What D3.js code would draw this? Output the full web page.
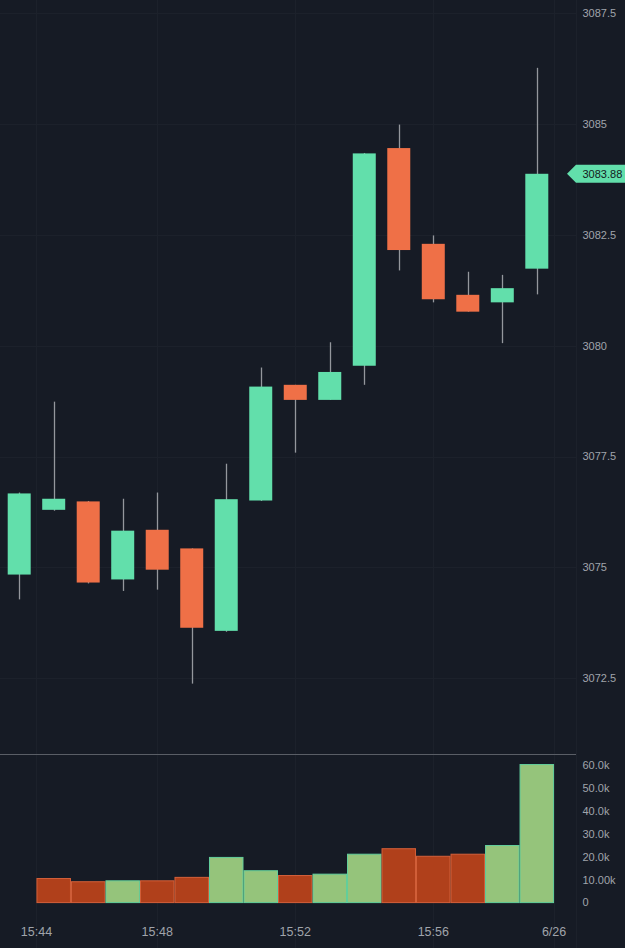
<!DOCTYPE html>
<html>
<head>
<meta charset="utf-8">
<script src="https://cdn.jsdelivr.net/npm/d3@7"></script>
<style>
  html, body { margin: 0; padding: 0; background: #161b25; }
  svg { display: block; }
  text { font-family: "Liberation Sans", Arial, Helvetica, sans-serif; }
</style>
</head>
<body>
<svg id="chart" width="625" height="948"></svg>
<script>
// ---- data ----
const times  = ["15:44","15:45","15:46","15:47","15:48","15:49","15:50","15:51","15:52","15:53","15:54","15:55","15:56","15:57","15:58","15:59"];
const open   = [3074.84,3076.30,3076.49,3074.73,3075.85,3075.43,3073.57,3076.51,3079.12,3078.78,3079.55,3084.46,3082.30,3081.15,3080.98,3081.74];
const high   = [3076.69,3078.74,3076.50,3076.55,3076.69,3075.43,3077.34,3079.51,3079.12,3080.08,3084.35,3084.99,3082.49,3081.67,3081.60,3086.27];
const low    = [3074.28,3076.28,3074.64,3074.47,3074.50,3072.38,3073.55,3076.50,3077.59,3078.78,3079.12,3081.70,3080.98,3080.77,3080.06,3081.16];
const close  = [3076.67,3076.55,3074.66,3075.83,3074.95,3073.64,3076.54,3079.08,3078.78,3079.41,3084.34,3082.16,3081.05,3080.77,3081.30,3083.88];
const volume = [null,10500,9100,9500,9500,11000,19700,13900,11800,12400,21100,23500,20200,21100,24900,60200];
const priceTicks = [3072.5,3075,3077.5,3080,3082.5,3085,3087.5];
const priceTickLabels = ["3072.5","3075","3077.5","3080","3082.5","3085","3087.5"];
const volTicks = [0,10000,20000,30000,40000,50000,60000];
const volTickLabels = ["0","10.00k","20.0k","30.0k","40.0k","50.0k","60.0k"];
const timeTickAt = [0.5,4,8,12,15.5];
const timeTickLabels = ["15:44","15:48","15:52","15:56","6/26"];
const lastPriceLabel = "3083.88";

// ---- layout ----
const W = 625, H = 948;
const plotRight = 576;
const paneSep = 754;
const upColor = "#62dfab", downColor = "#ef7047";
const volUp = "#95c47b", volDown = "#b0401b";
const volUpStroke = "#63cf9c", volDownStroke = "#d4603a";
const gridColor = "#1c212b";
const labelColor = "#a0a4ab";

const svg = d3.select("#chart");
svg.append("rect").attr("width", W).attr("height", H).attr("fill", "#161b25");

const idx = d3.range(times.length);
const x = d3.scaleLinear().domain([0, 15]).range([19.2, 536.8]);
const y = d3.scaleLinear().domain([3072.5, 3087.5]).range([678.3, 13.3]);
const yv = d3.scaleLinear().domain([0, 60000]).range([902.6, 765]);
const step = x(1) - x(0);
const bodyW = 23;

// grid
const g = svg.append("g");
g.selectAll("line.h").data(priceTicks).join("line")
  .attr("x1", 0).attr("x2", plotRight)
  .attr("y1", d => Math.round(y(d)) + 0.5).attr("y2", d => Math.round(y(d)) + 0.5)
  .attr("stroke", gridColor).attr("stroke-width", 1);
g.selectAll("line.v").data(timeTickAt).join("line")
  .attr("x1", d => Math.round(x(d)) + 0.5).attr("x2", d => Math.round(x(d)) + 0.5)
  .attr("y1", 0).attr("y2", H)
  .attr("stroke", gridColor).attr("stroke-width", 1);
// right axis separator
svg.append("line").attr("x1", plotRight + 0.5).attr("x2", plotRight + 0.5)
  .attr("y1", 0).attr("y2", H).attr("stroke", gridColor);

// candles
const cg = svg.append("g");
const isUp = i => close[i] >= open[i];
cg.selectAll("line.wick").data(idx).join("line")
  .attr("x1", i => Math.round(x(i)) + 0.5).attr("x2", i => Math.round(x(i)) + 0.5)
  .attr("y1", i => y(high[i])).attr("y2", i => y(low[i]))
  .attr("stroke", "#94979d").attr("stroke-width", 1.3);
cg.selectAll("rect.body").data(idx).join("rect")
  .attr("x", i => x(i) - bodyW / 2)
  .attr("width", bodyW)
  .attr("y", i => y(Math.max(open[i], close[i])))
  .attr("height", i => Math.max(1, Math.abs(y(open[i]) - y(close[i]))))
  .attr("fill", i => isUp(i) ? upColor : downColor);

// pane separator
svg.append("line").attr("x1", 0).attr("x2", plotRight)
  .attr("y1", paneSep + 0.5).attr("y2", paneSep + 0.5)
  .attr("stroke", "#5a5e66").attr("stroke-width", 1);

// volume bars
const vIdx = idx.filter(i => volume[i] != null);
const volIsUp = i => close[i] >= close[i - 1];
svg.append("g").selectAll("rect").data(vIdx).join("rect")
  .attr("x", i => x(i - 0.5) + 0.5)
  .attr("width", step - 1)
  .attr("y", i => yv(volume[i]))
  .attr("height", i => yv(0) - yv(volume[i]))
  .attr("fill", i => volIsUp(i) ? volUp : volDown)
  .attr("stroke", i => volIsUp(i) ? volUpStroke : volDownStroke)
  .attr("stroke-width", 1);

// price axis labels
svg.append("g").selectAll("text").data(priceTicks).join("text")
  .attr("x", 582.5).attr("y", d => y(d)).attr("dy", "0.35em")
  .attr("fill", labelColor).attr("font-size", 11)
  .text((d, i) => priceTickLabels[i]);

// volume axis labels
svg.append("g").selectAll("text").data(volTicks).join("text")
  .attr("x", 582.5).attr("y", d => yv(d)).attr("dy", "0.35em")
  .attr("fill", labelColor).attr("font-size", 11)
  .text((d, i) => volTickLabels[i]);

// time axis labels
svg.append("g").selectAll("text").data(timeTickAt).join("text")
  .attr("x", d => x(d)).attr("y", 932).attr("dy", "0.35em")
  .attr("text-anchor", "middle")
  .attr("fill", labelColor).attr("font-size", 12.5)
  .text((d, i) => timeTickLabels[i]);

// last price label
const lp = close[close.length - 1];
const ly = y(lp);
const tipX = 567, bx = 576, hh = 9;
svg.append("path")
  .attr("d", `M${tipX},${ly} L${bx},${ly - hh} L${W + 2},${ly - hh} L${W + 2},${ly + hh} L${bx},${ly + hh} Z`)
  .attr("fill", upColor);
svg.append("text").attr("x", 582.5).attr("y", ly).attr("dy", "0.35em")
  .attr("fill", "#13201c").attr("font-size", 11)
  .text(lastPriceLabel);
</script>
</body>
</html>
